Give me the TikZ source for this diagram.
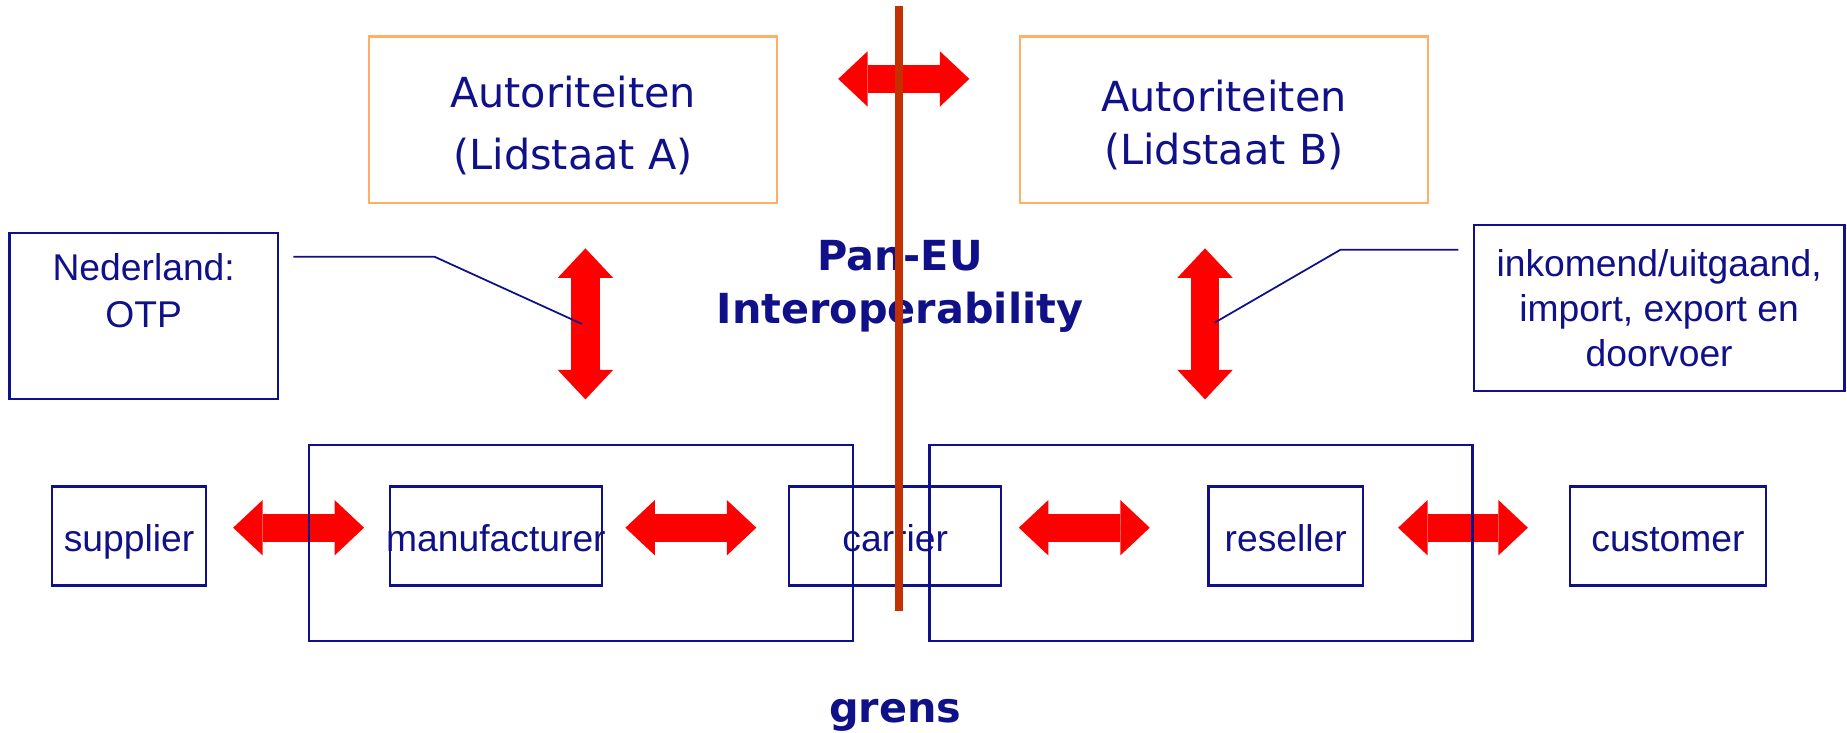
\documentclass[tikz,border=0pt]{standalone}
\usepackage{fontspec}
\setmainfont{Liberation Sans}
\newfontfamily\verdanalike{DejaVu Sans}
\usetikzlibrary{arrows.meta,backgrounds}

\definecolor{navy}{RGB}{16,16,136}
\definecolor{peach}{RGB}{255,176,102}
\definecolor{grensrood}{RGB}{194,50,0}

\tikzset{
  box/.style={draw=navy, line width=1.1pt, inner sep=0pt, text=navy, font=\fontsize{18}{21}\selectfont},
  chainbox/.style={box, minimum height=1.68cm, text height=15pt, text depth=0pt},
  authbox/.style={draw=peach, line width=1pt, inner sep=0pt, minimum width=6.93cm, minimum height=2.82cm},
  authtext/.style={text=navy, align=center, inner sep=0pt},
  fatarrow/.style={draw=red, line width=0.48cm, >={Triangle[length=0.5cm,width=0.94cm,line width=0pt]}, <->},
  callout/.style={draw=navy, line width=0.85pt},
}

\begin{document}
\begin{tikzpicture}[x=0.02cm, y=-0.02cm]
    \useasboundingbox (0,0) rectangle (1568,622);

    % Autoriteiten
    \node[authbox] (authA) at (486.5,101.5) {};
    \node[authtext, font=\verdanalike\fontsize{20}{30.2}\selectfont] (authAtext) at ([yshift=-0.1cm]authA.center) {Autoriteiten\\(Lidstaat A)};
    \node[authbox] (authB) at (1039,101.5) {};
    \node[authtext, font=\verdanalike\fontsize{20}{25.6}\selectfont] (authBtext) at ([yshift=-0.09cm]authB.center) {Autoriteiten\\(Lidstaat B)};

    % Pan-EU
    \node[text=navy, align=center, font=\verdanalike\bfseries\fontsize{20}{25.6}\selectfont] (paneu) at (764,243) {Pan-EU\\Interoperability};

    % Opmerkingen
    \node[box, minimum width=4.56cm, minimum height=2.82cm] (noteNL) at (122,268.5) {};
    \node[text=navy, align=center, anchor=north, inner sep=0pt, font=\fontsize{18}{22.8}\selectfont] (noteNLtext) at ([yshift=-0.36cm]noteNL.north) {Nederland:\\OTP};
    \node[box, align=center, minimum width=6.3cm, minimum height=2.82cm, font=\fontsize{18}{21.6}\selectfont] (noteIO) at (1408.5,261.5) {inkomend/uitgaand,\\import, export en\\doorvoer};

    % Keten
    \node[box, minimum width=9.24cm, minimum height=3.32cm] (frameA) at (493,461) {};
    \node[box, minimum width=9.22cm, minimum height=3.32cm] (frameB) at (1019.5,461) {};
    \node[chainbox, minimum width=2.62cm] (supplier) at (109.5,455) {supplier};
    \node[chainbox, minimum width=3.6cm] (manufacturer) at (421,455) {\makebox[0pt]{manufacturer}};
    \node[chainbox, minimum width=3.6cm] (carrier) at (760,455) {carrier};
    \node[chainbox, minimum width=2.62cm] (reseller) at (1091.5,455) {reseller};
    \node[chainbox, minimum width=3.32cm] (customer) at (1416,455) {customer};

    % Pijlen
    \begin{scope}[on background layer]
        \draw[fatarrow, shorten <=1.02cm, shorten >=0.84cm] ([yshift=0.69cm]authA.east) -- ([yshift=0.69cm]authB.west);
        \coordinate (stemA) at ([xshift=0.08cm]frameA.north);
        \coordinate (stemB) at ([xshift=0.07cm]frameB.north);
        \draw[fatarrow, shorten <=0.76cm, shorten >=0.76cm] (stemA |- authA.south) -- (stemA);
        \draw[fatarrow, shorten <=0.76cm, shorten >=0.76cm] (stemB |- authB.south) -- (stemB);
        \draw[fatarrow, shorten <=0.44cm, shorten >=0.42cm] ([yshift=0.14cm]supplier.east) -- ([yshift=0.14cm]manufacturer.west);
        \draw[fatarrow, shorten <=0.38cm, shorten >=0.54cm] ([yshift=0.14cm]manufacturer.east) -- ([yshift=0.14cm]carrier.west);
        \draw[fatarrow, shorten <=0.28cm, shorten >=0.98cm] ([yshift=0.14cm]carrier.east) -- ([yshift=0.14cm]reseller.west);
        \draw[fatarrow, shorten <=0.58cm, shorten >=0.70cm] ([yshift=0.14cm]reseller.east) -- ([yshift=0.14cm]customer.west);
    \end{scope}

    % Verwijslijnen
    \coordinate (nlStart) at (249,218);
    \coordinate (nlBend) at (369,218);
    \coordinate (nlTip) at (494,275);
    \draw[callout] (nlStart) -- (nlBend) -- (nlTip);
    \coordinate (ioStart) at (1238,212);
    \coordinate (ioBend) at (1138,212);
    \coordinate (ioTip) at (1031,274);
    \draw[callout] (ioStart) -- (ioBend) -- (ioTip);

    % Grens
    \coordinate (grensTop) at (763,5);
    \coordinate (grensBot) at (763,519);
    \draw[grensrood, line width=0.14cm] (grensTop) -- (grensBot);
    \node[text=navy, anchor=base, inner sep=0pt, font=\verdanalike\bfseries\fontsize{20}{24}\selectfont] (grens) at (760,613) {grens};
\end{tikzpicture}
\end{document}
